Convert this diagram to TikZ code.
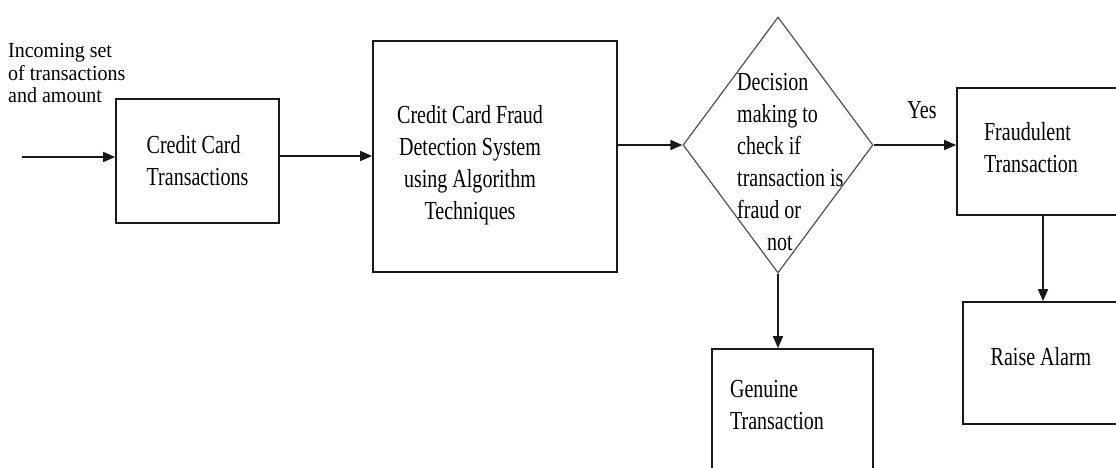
\documentclass[tikz,border=0pt]{standalone}
\usepackage{fontspec}
\setmainfont[FakeStretch=0.77]{Liberation Serif}
\newfontfamily\incfont[FakeStretch=0.93]{Liberation Serif}
\usetikzlibrary{arrows.meta,positioning,calc,shapes.geometric}
\definecolor{boxline}{RGB}{25,25,25}
\definecolor{dialine}{RGB}{80,80,80}

\begin{document}
\begin{tikzpicture}[x=1pt,y=-1pt,
  box/.style={draw=boxline,line width=1.7pt,rectangle,inner sep=0pt},
  txt/.style={font=\fontsize{26}{32}\selectfont,inner sep=0pt,text=black},
  arr/.style={-{Triangle[length=12pt,width=10pt]},line width=1.6pt,boxline}]
\useasboundingbox (0,0) rectangle (1116,468);
\clip (0,0) rectangle (1116,468);
% boxes
\node[box,txt,align=left,minimum width=163pt,minimum height=124pt] (trans) at (197.5,161) {Credit Card\\Transactions};
\node[box,minimum width=244pt,minimum height=231pt] (sys) at (495,156.5) {};
\node[txt,align=center] (systext) at (470,165) {Credit Card Fraud\\Detection System\\using Algorithm\\Techniques};
\node[draw=dialine,line width=1.2pt,diamond,minimum width=190pt,minimum height=256pt,inner sep=0pt] (dec) at (778,145) {};
\node[txt,align=left,anchor=west] (dectext) at (737,162.5) {Decision\\making to\\check if\\transaction is\\fraud or\\\hspace*{30pt}not};
\node[box,minimum width=173pt,minimum height=127pt] (fraud) at (1043.5,151.5) {};
\node[txt,align=left] (fraudtext) at (1031,147.5) {Fraudulent\\Transaction};
\node[box,minimum width=167pt,minimum height=122pt] (alarm) at (1046.5,363) {};
\node[txt] (alarmtext) at (1041,357) {Raise Alarm};
\node[box,minimum width=161pt,minimum height=141pt] (gen) at (792.5,419.5) {};
\node[txt,align=left] (gentext) at (777,405) {Genuine\\Transaction};
% labels
\node[font=\incfont\fontsize{21.5}{22.5}\selectfont,align=left,anchor=west,inner sep=0pt,text=black] (inc) at (8,73) {Incoming set\\of transactions\\and amount};
\node[txt] (yes) at (922,110) {Yes};
% connectors
\coordinate (start) at (22,157);
\coordinate (fa) at (1043,0);
\draw[arr] (start) -- (start -| trans.west);
\draw[arr] ([yshift=5pt]trans.east) -- ([yshift=5pt]trans.east -| sys.west);
\draw[arr] (dec.west -| sys.east) -- (dec.west);
\draw[arr] (dec.east) -- (dec.east -| fraud.west);
\draw[arr] (dec.south) -- (dec.south |- gen.north);
\draw[arr] (fa |- fraud.south) -- (fa |- alarm.north);
\end{tikzpicture}
\end{document}
